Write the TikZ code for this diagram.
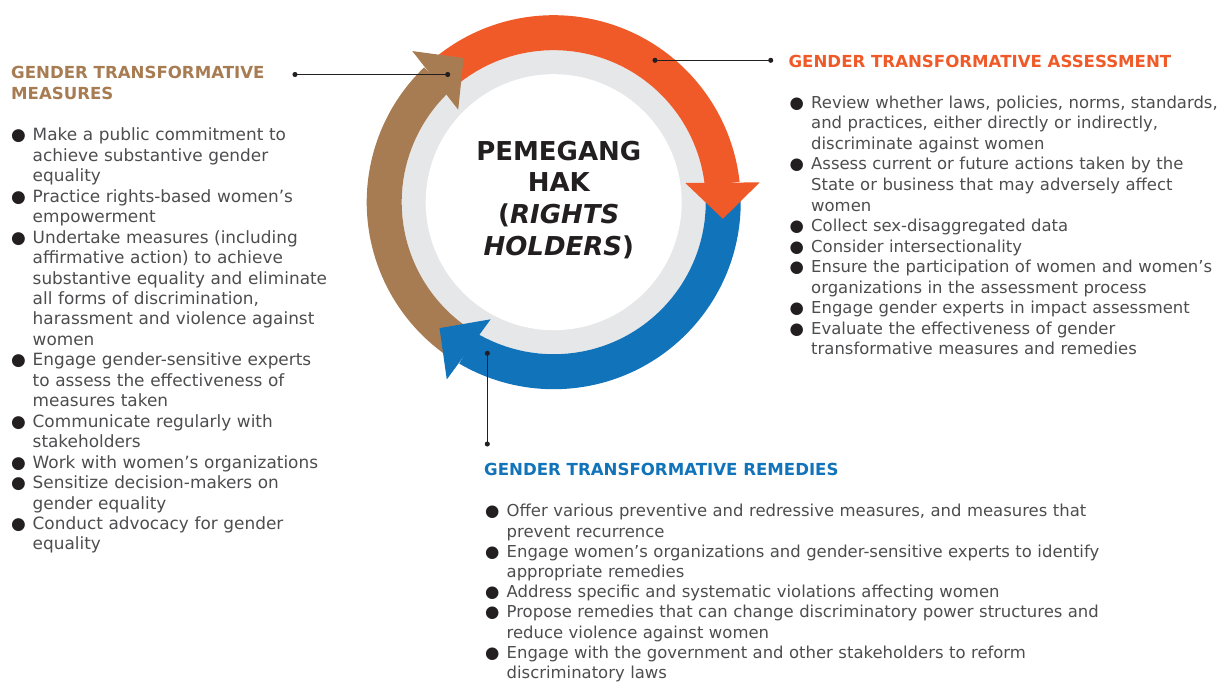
\documentclass[tikz,border=0pt]{standalone}
\usepackage{fontspec}
\setmainfont{DejaVu Sans}
\usetikzlibrary{arrows.meta}
\setlength\parindent{0pt}

\definecolor{orng}{HTML}{F05A28}
\definecolor{blu}{HTML}{1173BA}
\definecolor{brwn}{HTML}{A87C52}
\definecolor{ringgray}{HTML}{E6E7E8}
\definecolor{ink}{HTML}{231F20}
\definecolor{bodytext}{HTML}{4D4D4F}

\newcommand\headfont{\fontsize{16.6}{21.3}\selectfont\bfseries}
% one bullet point, later lines hang under the text
\newcommand\dotitem[1]{\noindent\hangindent=21.5pt\hangafter=1%
  \makebox[21.5pt][l]{\textcolor{ink}{●}}\strut#1\par}

\begin{document}
\begin{tikzpicture}[x=1pt,y=1pt,
  band/.style={line width=35pt},
  heading/.style={anchor=north west,inner sep=0pt,align=left,font=\headfont},
  bullets/.style={anchor=north west,inner sep=0pt,align=left,text=bodytext},
  leader/.style={draw=ink,line width=1pt,{Circle[length=5pt]}-{Circle[length=5pt]}}]

\useasboundingbox (0,0) rectangle (1222,-682);

% cycle of three arrows round the centre
\coordinate (hub) at (553.7,-202.2);
\begin{scope}[shift={(hub)}]
\fill[ringgray] (0,0) circle (152);
\fill[white] (0,0) circle (128);
\foreach \col/\a/\b in {orng/131/6.9, blu/5/-119.7, brwn/237/134.5}
  \draw[band,draw=\col] (\a:169.5) arc[start angle=\a, end angle={\b-0.7}, radius=169.5];
\foreach \col/\b in {orng/6.9, blu/-119.7, brwn/134.5}
  \fill[fill=\col] ({\b+1.4}:133) -- ({\b-1.4}:207) -- ({\b-12.5}:170) -- cycle;
\end{scope}

\node[font=\fontsize{26}{31.7}\selectfont\bfseries,text=ink,align=center,anchor=north,inner sep=0pt]
  (holders) at (558.8,-137.8) {\strut PEMEGANG\\HAK\\(\textit{RIGHTS}\\\textit{HOLDERS})};

% measures, top left
\node[heading,text=brwn] (measures-head) at (11,-63.1) {\strut GENDER TRANSFORMATIVE\\MEASURES};
\node[bullets,text width=335pt,font=\fontsize{16.9}{20.45}\selectfont] (measures-list) at (11,-126.4) {%
  \dotitem{Make a public commitment to\newline achieve substantive gender\newline equality}
  \dotitem{Practice rights-based women’s\newline empowerment}
  \dotitem{Undertake measures (including\newline affirmative action) to achieve\newline substantive equality and eliminate\newline all forms of discrimination,\newline harassment and violence against\newline women}
  \dotitem{Engage gender-sensitive experts\newline to assess the effectiveness of\newline measures taken}
  \dotitem{Communicate regularly with\newline stakeholders}
  \dotitem{Work with women’s organizations}
  \dotitem{Sensitize decision-makers on\newline gender equality}
  \dotitem{Conduct advocacy for gender\newline equality}};

% assessment, top right
\node[heading,text=orng] (assessment-head) at (788.4,-52.4) {\strut GENDER TRANSFORMATIVE ASSESSMENT};
\node[bullets,text width=440pt,font=\fontsize{16.45}{20.5}\selectfont] (assessment-list) at (789.5,-93.95) {%
  \dotitem{Review whether laws, policies, norms, standards,\newline and practices, either directly or indirectly,\newline discriminate against women}
  \dotitem{Assess current or future actions taken by the\newline State or business that may adversely affect\newline women}
  \dotitem{Collect sex-disaggregated data}
  \dotitem{Consider intersectionality}
  \dotitem{Ensure the participation of women and women’s\newline organizations in the assessment process}
  \dotitem{Engage gender experts in impact assessment}
  \dotitem{Evaluate the effectiveness of gender\newline transformative measures and remedies}};

% remedies, bottom
\node[heading,text=blu] (remedies-head) at (484,-460.1) {\strut GENDER TRANSFORMATIVE REMEDIES};
\node[bullets,text width=640pt,font=\fontsize{16.45}{20.2}\selectfont] (remedies-list) at (485,-502.6) {%
  \dotitem{Offer various preventive and redressive measures, and measures that\newline prevent recurrence}
  \dotitem{Engage women’s organizations and gender-sensitive experts to identify\newline appropriate remedies}
  \dotitem{Address specific and systematic violations affecting women}
  \dotitem{Propose remedies that can change discriminatory power structures and\newline reduce violence against women}
  \dotitem{Engage with the government and other stakeholders to reform\newline discriminatory laws}};

% leader lines from the arrows to their headings
\coordinate (measures-end) at (292.5,-74.5);
\coordinate (measures-arrow) at (450.2,-74.5);
\coordinate (assessment-arrow) at (652.5,-60.3);
\coordinate (assessment-end) at (773.2,-60.3);
\coordinate (remedies-arrow) at (487.3,-350.8);
\coordinate (remedies-end) at (487.3,-446.5);
\draw[leader] (measures-end) -- (measures-arrow);
\draw[leader] (assessment-arrow) -- (assessment-end);
\draw[leader] (remedies-arrow) -- (remedies-end);
\end{tikzpicture}
\end{document}
